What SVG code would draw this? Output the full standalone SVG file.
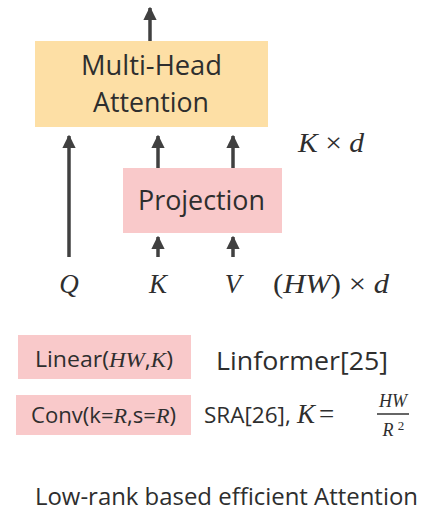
<svg xmlns="http://www.w3.org/2000/svg" width="421" height="511" viewBox="0 0 421 511">
  <style>
    .lbl { font-family: "Open Sans", "Noto Sans", "Liberation Sans", sans-serif; fill: #2e2e2e; }
    .math { font-family: "Liberation Serif", "DejaVu Serif", serif; font-style: italic; fill: #2e2e2e; }
    .mrm { font-family: "Liberation Serif", "DejaVu Serif", serif; fill: #2e2e2e; }
    .wire { stroke: #404040; stroke-width: 3.5; fill: none; }
  </style>
  <defs>
    <marker id="head" viewBox="0 0 10 10" refX="9" refY="5" markerWidth="3.8" markerHeight="3.8" markerUnits="strokeWidth" orient="auto">
      <path d="M0,0 L10,5 L0,10 z" fill="#404040"/>
    </marker>
  </defs>
  <rect width="421" height="511" fill="#ffffff"/>

  <g id="connectors">
    <line class="wire" x1="150" y1="41" x2="150" y2="8" marker-end="url(#head)"/>
    <line class="wire" x1="69" y1="257" x2="69" y2="136" marker-end="url(#head)"/>
    <line class="wire" x1="158" y1="168" x2="158" y2="136" marker-end="url(#head)"/>
    <line class="wire" x1="233" y1="168" x2="233" y2="136" marker-end="url(#head)"/>
    <line class="wire" x1="158" y1="257" x2="158" y2="237" marker-end="url(#head)"/>
    <line class="wire" x1="233" y1="257" x2="233" y2="237" marker-end="url(#head)"/>
  </g>

  <g id="mha">
    <rect x="35" y="41" width="233" height="86" fill="#FDDFA5"/>
    <text class="lbl" x="81" y="75" font-size="27" textLength="141" lengthAdjust="spacingAndGlyphs">Multi-Head</text>
    <text class="lbl" x="93" y="112" font-size="27" textLength="116" lengthAdjust="spacingAndGlyphs">Attention</text>
  </g>

  <g id="projection">
    <rect x="123" y="168" width="159" height="65" fill="#F9C9CA"/>
    <text class="lbl" x="138" y="210" font-size="27" textLength="127" lengthAdjust="spacingAndGlyphs">Projection</text>
  </g>

  <g id="inputs">
    <text class="math" x="69" y="293" font-size="27" text-anchor="middle">Q</text>
    <text class="math" x="158" y="293" font-size="27" text-anchor="middle">K</text>
    <text class="math" x="233" y="293" font-size="27" text-anchor="middle">V</text>
    <text class="mrm" x="273" y="293" font-size="27" textLength="116" lengthAdjust="spacingAndGlyphs">(<tspan font-style="italic">HW</tspan>) × <tspan font-style="italic">d</tspan></text>
    <text class="mrm" x="298" y="152" font-size="27" textLength="66" lengthAdjust="spacingAndGlyphs"><tspan font-style="italic">K</tspan> × <tspan font-style="italic">d</tspan></text>
  </g>

  <g id="linformer">
    <rect x="18" y="335" width="173" height="44" fill="#F9C9CA"/>
    <text class="lbl" x="35" y="367" font-size="21" textLength="138" lengthAdjust="spacingAndGlyphs">Linear(<tspan class="math">HW</tspan>,<tspan class="math">K</tspan>)</text>
    <text class="lbl" x="216" y="370" font-size="26" textLength="172" lengthAdjust="spacingAndGlyphs">Linformer[25]</text>
  </g>

  <g id="sra">
    <rect x="16" y="395" width="175" height="40" fill="#F9C9CA"/>
    <text class="lbl" x="31" y="423" font-size="21" textLength="145" lengthAdjust="spacingAndGlyphs">Conv(k=<tspan class="math">R</tspan>,s=<tspan class="math">R</tspan>)</text>
    <text class="lbl" x="204" y="423" font-size="22.5">SRA[26],<tspan class="math" x="297" font-size="27">K</tspan><tspan class="mrm" x="319" font-size="27">=</tspan></text>
    <text class="math" x="393" y="407" font-size="18" text-anchor="middle">HW</text>
    <line x1="377" y1="414" x2="409" y2="414" stroke="#333333" stroke-width="1.5"/>
    <text class="math" x="388" y="436" font-size="18" text-anchor="middle">R</text>
    <text class="mrm" x="401" y="430" font-size="13" text-anchor="middle">2</text>
  </g>

  <text class="lbl" x="35" y="505" font-size="24" textLength="383" lengthAdjust="spacingAndGlyphs">Low-rank based efficient Attention</text>
</svg>
